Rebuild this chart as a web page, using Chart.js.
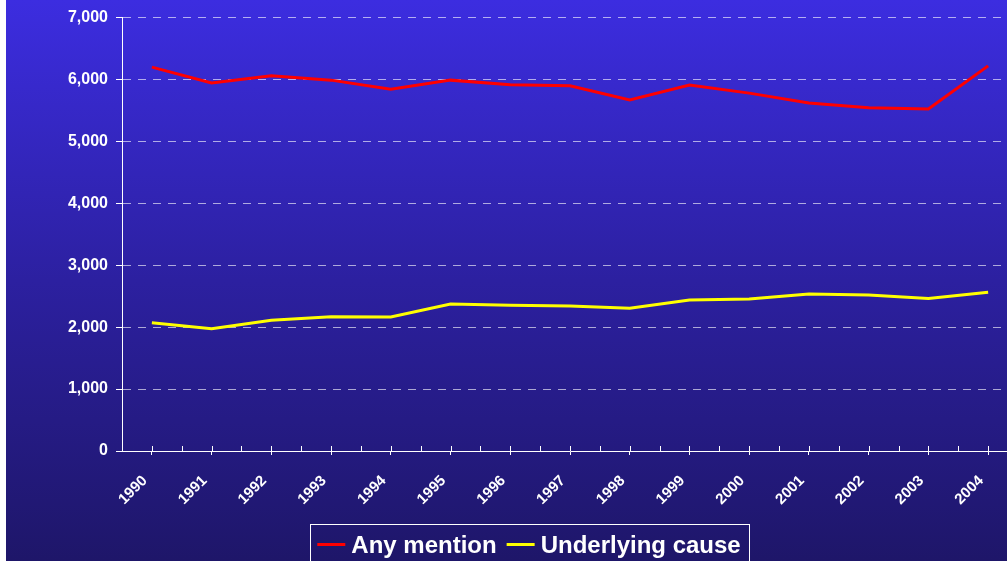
<!DOCTYPE html>
<html>
<head>
<meta charset="utf-8">
<script src="https://cdn.jsdelivr.net/npm/chart.js@4/dist/chart.umd.min.js"></script>
<style>
html, body { margin:0; padding:0; background:#fff; overflow:hidden; width:1007px; height:561px; }
#wrap { position:absolute; left:6px; top:0; width:1012px; height:570px; }
</style>
</head>
<body>
<div id="wrap"><canvas id="chart"></canvas></div>
<script>
// data
const years = ['1990','1991','1992','1993','1994','1995','1996','1997','1998','1999','2000','2001','2002','2003','2004'];
const anyMention = [6200, 5945, 6060, 5990, 5845, 5990, 5915, 5900, 5670, 5910, 5780, 5620, 5545, 5525, 6220];
const underlyingCause = [2070, 1975, 2110, 2170, 2165, 2375, 2355, 2340, 2305, 2440, 2455, 2535, 2520, 2465, 2565];
const yMin = 0, yMax = 7000, yStep = 1000;

const FONT = '"Liberation Sans", Arial, sans-serif';
Chart.defaults.font.family = FONT;

// gradient background behind everything
const bgPlugin = {
    id: 'bg',
    beforeDraw(chart) {
        const {ctx, width, height} = chart;
        const g = ctx.createLinearGradient(0, 0, 0, 561);
        g.addColorStop(0, 'rgb(60,45,224)');
        g.addColorStop(0.5, 'rgb(44,32,160)');
        g.addColorStop(1, 'rgb(30,22,105)');
        ctx.save();
        ctx.fillStyle = g;
        ctx.fillRect(0, 0, width, height);
        ctx.restore();
    }
};

// small upward ticks on the x axis + legend frame and line samples
const extrasPlugin = {
    id: 'extras',
    afterDraw(chart) {
        const {ctx} = chart;
        const x = chart.scales.x;
        const y0 = Math.round(chart.chartArea.bottom);
        ctx.save();
        ctx.strokeStyle = '#fff';
        ctx.lineWidth = 1;
        ctx.beginPath();
        for (let i = 0; i < years.length; i++) {
            [i, i + 0.5].forEach(v => {
                const px = Math.round(x.getPixelForValue(v)) + 0.5;
                if (px > chart.chartArea.left + 2 && px < chart.width) {
                    ctx.moveTo(px, y0 - 5);
                    ctx.lineTo(px, y0);
                }
            });
        }
        ctx.stroke();

        const lg = chart.legend;
        const hb = lg.legendHitBoxes;
        if (hb && hb.length) {
            const left = Math.round(hb[0].left - 7) + 0.5;
            const right = Math.round(hb[hb.length - 1].left + hb[hb.length - 1].width + 8) + 0.5;
            const top = Math.round(lg.top) + 0.5;
            ctx.strokeRect(left, top, right - left, lg.bottom - lg.top);
            chart.data.datasets.forEach((ds, i) => {
                const b = hb[i];
                const ly = Math.round(b.top + b.height / 2 - 3);
                ctx.fillStyle = ds.borderColor;
                ctx.fillRect(b.left, ly, 28, 3);
            });
        }
        ctx.restore();
    }
};

const ctx = document.getElementById('chart').getContext('2d');
window.mainChart = new Chart(ctx, {
    type: 'line',
    data: {
        labels: years,
        datasets: [
            {
                label: 'Any mention',
                data: anyMention,
                borderColor: '#ff0000',
                backgroundColor: '#ff0000',
                borderWidth: 3,
                pointRadius: 0,
                tension: 0,
                fill: false
            },
            {
                label: 'Underlying cause',
                data: underlyingCause,
                borderColor: '#ffff00',
                backgroundColor: '#ffff00',
                borderWidth: 3,
                pointRadius: 0,
                tension: 0,
                fill: false
            }
        ]
    },
    options: {
        responsive: true,
        maintainAspectRatio: false,
        animation: false,
        layout: { padding: { left: 34, top: 17, right: 0, bottom: 2 } },
        plugins: {
            tooltip: { enabled: false },
            legend: {
                position: 'bottom',
                labels: {
                    color: '#fff',
                    font: { size: 24, weight: 'bold' },
                    boxWidth: 22,
                    boxHeight: 3,
                    padding: 10,
                    generateLabels: chart => chart.data.datasets.map((ds, i) => ({
                        text: ds.label,
                        fillStyle: 'rgba(0,0,0,0)',
                        strokeStyle: 'rgba(0,0,0,0)',
                        lineWidth: 0,
                        hidden: false,
                        datasetIndex: i,
                        fontColor: '#fff'
                    }))
                }
            }
        },
        scales: {
            x: {
                offset: true,
                afterFit: s => { s.height = 73; },
                grid: {
                    display: true,
                    offset: false,
                    drawOnChartArea: false,
                    drawTicks: true,
                    tickLength: 4,
                    color: '#fff'
                },
                border: { color: '#fff', width: 1 },
                ticks: {
                    color: '#fff',
                    font: { size: 15, weight: 'bold' },
                    autoSkip: false,
                    maxRotation: 45,
                    minRotation: 45,
                    padding: 17,
                    labelOffset: -7
                }
            },
            y: {
                min: yMin,
                max: yMax,
                afterFit: s => { s.width = 82; },
                grid: {
                    color: 'rgba(255,255,255,0.62)',
                    tickColor: '#fff',
                    tickLength: 6,
                    tickBorderDash: []
                },
                border: { color: '#fff', width: 1, dash: [8, 7] },
                ticks: {
                    stepSize: yStep,
                    color: '#fff',
                    font: { size: 16, weight: 'bold' },
                    padding: 8,
                    callback: v => v.toLocaleString('en-US')
                }
            }
        }
    },
    plugins: [bgPlugin, extrasPlugin]
});
</script>
</body>
</html>
